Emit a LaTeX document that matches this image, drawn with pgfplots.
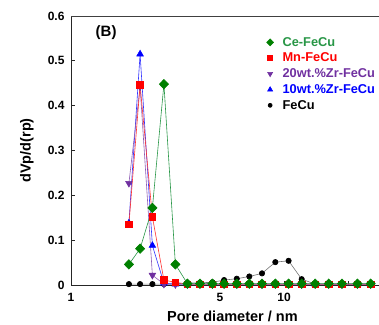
\documentclass[border=0pt]{standalone}
\usepackage{fontspec}
\setmainfont{Liberation Sans}
\usepackage{pgfplots}
\pgfplotsset{compat=1.18}
\definecolor{cgreen}{RGB}{0,128,0}
\definecolor{cgreenl}{RGB}{40,150,70}
\definecolor{cpurple}{RGB}{112,48,160}
\definecolor{cred}{RGB}{255,0,0}
\definecolor{cblue}{RGB}{0,0,255}
\begin{document}
\begin{tikzpicture}
\begin{axis}[
  scale only axis, width=308pt, height=269pt,
  xmode=log, xmin=1, xmax=27.9, ymin=0, ymax=0.6,
  axis x line*=bottom, axis y line*=left,
  axis line style={line width=1pt, black!85},
  xtick={1,5,10,20}, xticklabels={1,5,10,{}}, minor xtick={},
  ytick={0,0.1,0.2,0.3,0.4,0.5,0.6},
  tick align=inside, major tick length=4pt,
  tick style={black!85, line width=0.8pt},
  /pgf/number format/assume math mode=true,
  ticklabel style={font=\fontsize{12}{14}\selectfont\bfseries},
  yticklabel style={/pgf/number format/fixed, /pgf/number format/precision=1, xshift=-3pt},
  xticklabel style={yshift=-5pt},
  xlabel={Pore diameter / nm},
  xlabel style={font=\fontsize{14.5}{17}\selectfont\bfseries, at={(axis description cs:0.524,-0.1375)}, anchor=base},
  ylabel={dVp/d(rp)},
  ylabel style={font=\fontsize{14.5}{17}\selectfont\bfseries, at={(axis description cs:-0.143,0.5)}, anchor=center},
  legend style={at={(axis description cs:0.625,0.937)}, anchor=north west, draw=none, fill=none,
    font=\fontsize{12.8}{15}\selectfont\bfseries, row sep=1.3pt,
    /tikz/every odd column/.append style={column sep=7pt}},
  legend cell align=left, reverse legend,
  legend image code/.code={\draw[#1, only marks, /tikz/every mark/.append style={scale=0.75}] plot coordinates {(0pt,0pt)};},
]
\coordinate (bl) at (rel axis cs:0,0);
\draw[line width=1pt, black!75] (rel axis cs:0,1) -- (rel axis cs:1,1);
% FeCu
\addplot[black!55, line width=0.6pt, mark=*, mark size=2.7pt, mark options={fill=black, draw=black}] coordinates {
(1.87,0.002) (2.11,0.002) (2.41,0.002) (2.73,0.002) (3.09,0.003) (3.52,0.004) (4.03,0.005) (4.61,0.006)
(5.23,0.011) (6.00,0.014) (6.87,0.019) (7.88,0.026) (9.10,0.051) (10.5,0.054) (12.1,0.013) (14.0,0.002)
(16.2,0.002) (18.7,0.002) (22.1,0.002) (25.5,0.002)};
\addlegendentry{\textcolor{black}{FeCu}}
% 10wt% Zr
\addplot[cblue!80, line width=0.6pt, mark=triangle*, mark size=3.8pt, mark options={fill=cblue, draw=cblue}] coordinates {
(1.87,0.138) (2.11,0.515) (2.41,0.088) (2.73,0.004) (3.09,0.002) (3.52,0.002) (4.03,0.002) (4.61,0.002)
(5.23,0.002) (6.00,0.002) (6.87,0.002) (7.88,0.002) (9.10,0.002) (10.5,0.002) (12.1,0.002) (14.0,0.002)
(16.2,0.002) (18.7,0.002) (22.1,0.002) (25.5,0.002)};
\addlegendentry{\textcolor{cblue}{10wt.\%Zr-FeCu}}
% 20wt% Zr
\addplot[cpurple!80, line width=0.6pt, mark=triangle*, mark size=3.8pt, mark options={fill=cpurple, draw=cpurple, rotate=180}] coordinates {
(1.87,0.227) (2.11,0.442) (2.41,0.022) (2.73,0.002) (3.09,0.001) (3.52,0.001) (4.03,0.001) (4.61,0.001)
(5.23,0.001) (6.00,0.001) (6.87,0.001) (7.88,0.001) (9.10,0.001) (10.5,0.001) (12.1,0.001) (14.0,0.001)
(16.2,0.001) (18.7,0.001) (22.1,0.001) (25.5,0.001)};
\addlegendentry{\textcolor{cpurple}{20wt.\%Zr-FeCu}}
% Mn-FeCu
\addplot[cred!80, line width=0.6pt, mark=square*, mark size=3.3pt, mark options={fill=cred, draw=cred}] coordinates {
(1.87,0.135) (2.11,0.446) (2.41,0.152) (2.73,0.011) (3.09,0.006) (3.52,0.002) (4.03,0.002) (4.61,0.002)
(5.23,0.002) (6.00,0.002) (6.87,0.002) (7.88,0.002) (9.10,0.002) (10.5,0.002) (12.1,0.002) (14.0,0.002)
(16.2,0.002) (18.7,0.002) (22.1,0.002) (25.5,0.002)};
\addlegendentry{\textcolor{cred}{Mn-FeCu}}
% Ce-FeCu
\addplot[cgreenl, line width=0.6pt, mark=diamond*, mark size=4.7pt, mark options={fill=cgreen, draw=cgreen, xscale=1.3}] coordinates {
(1.87,0.046) (2.11,0.081) (2.41,0.172) (2.73,0.448) (3.09,0.046) (3.52,0.003) (4.03,0.003) (4.61,0.003)
(5.23,0.003) (6.00,0.003) (6.87,0.003) (7.88,0.003) (9.10,0.003) (10.5,0.003) (12.1,0.003) (14.0,0.003)
(16.2,0.003) (18.7,0.003) (22.1,0.003) (25.5,0.003)};
\addlegendentry{\textcolor{cgreenl}{Ce-FeCu}}
\node[font=\fontsize{15}{18}\selectfont\bfseries] at (rel axis cs:0.114,0.937) {(B)};
\end{axis}
\pgfresetboundingbox
\path[use as bounding box] (bl) ++(-71pt,-39pt) rectangle ++(379pt,324pt);
\end{tikzpicture}
\end{document}
